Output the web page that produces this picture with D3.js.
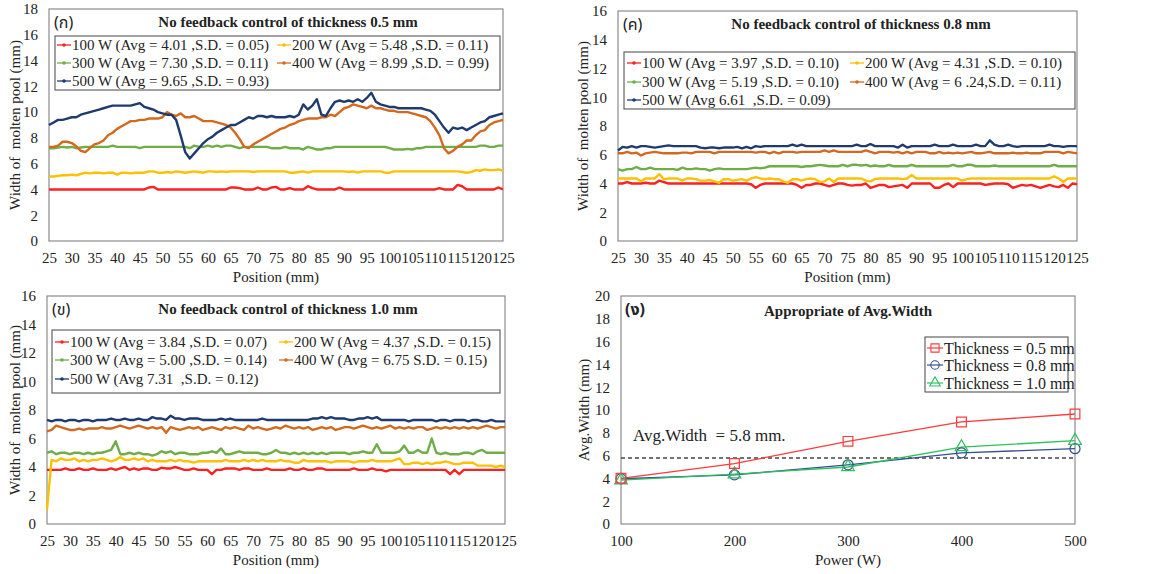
<!DOCTYPE html>
<html><head><meta charset="utf-8">
<script src="https://cdn.jsdelivr.net/npm/d3@7"></script>
<style>
html,body{margin:0;padding:0;background:#fff;}
text{font-family:"Liberation Serif","Times New Roman",serif;fill:#222;}
</style></head>
<body><svg id="c" width="1150" height="574"></svg>
<script>
// ---------- DATA ----------
const positions = [25,26,27,28,29,30,31,32,33,34,35,36,37,38,39,40,41,42,43,44,45,46,47,48,49,50,51,52,53,54,55,56,57,58,59,60,61,62,63,64,65,66,67,68,69,70,71,72,73,74,75,76,77,78,79,80,81,82,83,84,85,86,87,88,89,90,91,92,93,94,95,96,97,98,99,100,101,102,103,104,105,106,107,108,109,110,111,112,113,114,115,116,117,118,119,120,121,122,123,124,125];
const positionTicks = [25,30,35,40,45,50,55,60,65,70,75,80,85,90,95,100,105,110,115,120,125];

// thickness 0.5 mm
const t05_100 = [4,4,4,4,4,4,4,4,4,4, 4,4,4,4,4,4,4,4,4,4, 4,4,4.15,4.2,4,4,4,4,4,4, 4,4,4,4,4,4,4,4,4,4, 4.15,4.15,4.1,4,4,4,4.15,4,4,4.15, 4.2,4,4,4.1,4,4,4,4.25,4.1,4, 4,4,4,4,4.15,4,4,4,4,4, 4,4,4,4,4,4,4,4,4,4, 4,4,4,4,4,4,4.1,4,4,4, 4.35,4.25,4,4,4,4,4,4,4,4.15, 4];
const t05_200 = [5.0,5.0,5.05,5.1,5.1,5.15,5.1,5.2,5.3,5.25, 5.3,5.3,5.25,5.3,5.3,5.15,5.3,5.3,5.25,5.3, 5.3,5.3,5.4,5.4,5.3,5.3,5.35,5.3,5.4,5.35, 5.3,5.35,5.4,5.35,5.3,5.4,5.4,5.35,5.4,5.35, 5.4,5.4,5.4,5.4,5.4,5.35,5.4,5.4,5.4,5.4, 5.4,5.4,5.4,5.3,5.3,5.35,5.4,5.3,5.4,5.4, 5.4,5.4,5.4,5.4,5.4,5.4,5.35,5.4,5.3,5.4, 5.4,5.4,5.4,5.4,5.3,5.3,5.4,5.4,5.4,5.4, 5.4,5.4,5.4,5.4,5.4,5.4,5.4,5.4,5.4,5.4, 5.4,5.35,5.3,5.35,5.5,5.45,5.55,5.5,5.5,5.55, 5.45];
const t05_300 = [7.2,7.2,7.25,7.3,7.25,7.3,7.2,7.25,7.3,7.3, 7.3,7.3,7.3,7.3,7.4,7.3,7.3,7.3,7.3,7.3, 7.2,7.3,7.3,7.3,7.3,7.3,7.3,7.3,7.3,7.3, 7.3,7.2,7.4,7.3,7.3,7.4,7.3,7.4,7.3,7.4, 7.4,7.3,7.2,7.3,7.3,7.3,7.3,7.3,7.3,7.2, 7.2,7.2,7.3,7.2,7.2,7.2,7.1,7.3,7.2,7.1, 7.1,7.2,7.2,7.3,7.3,7.3,7.3,7.3,7.3,7.3, 7.3,7.3,7.3,7.3,7.3,7.2,7.1,7.1,7.1,7.15, 7.1,7.2,7.2,7.3,7.3,7.3,7.3,7.3,7.3,7.3, 7.3,7.3,7.3,7.3,7.3,7.4,7.4,7.3,7.3,7.4, 7.4];
const t05_400 = [7.3,7.3,7.4,7.7,7.7,7.6,7.35,7.0,6.9,7.2, 7.5,7.6,7.8,8.2,8.4,8.7,8.9,9.1,9.3,9.3, 9.4,9.4,9.5,9.5,9.5,9.6,10.0,9.8,9.7,9.9, 9.6,9.6,9.7,9.5,9.3,9.3,9.3,9.2,9.1,9.0, 8.8,8.4,7.9,7.3,7.2,7.5,7.7,7.9,8.1,8.3, 8.5,8.7,8.8,9.0,9.1,9.3,9.4,9.5,9.5,9.5, 9.6,9.6,9.8,9.7,10.0,10.3,10.4,10.6,10.5,10.4, 10.3,10.5,10.3,10.3,10.2,10.1,10.1,10.0,10.0,10.0, 9.9,9.8,9.7,9.6,9.3,8.8,8.2,7.2,6.8,7.0, 7.3,7.5,7.8,7.8,8.2,8.5,8.6,9.0,9.2,9.3, 9.4];
const t05_500 = [9.0,9.2,9.4,9.4,9.5,9.6,9.6,9.8,9.9,10.0, 10.1,10.2,10.3,10.4,10.5,10.5,10.5,10.5,10.5,10.6, 10.7,10.4,10.3,10.2,10.0,9.9,9.8,9.8,9.4,8.2, 6.9,6.4,6.8,7.2,7.6,7.9,8.1,8.4,8.6,8.8, 9.0,9.0,9.2,9.4,9.6,9.5,9.7,9.7,9.6,9.7, 9.6,9.6,9.6,9.7,9.6,9.8,10.6,10.2,10.5,11.0, 9.8,9.7,10.3,10.8,10.9,10.8,10.9,10.8,11.0,10.8, 11.1,11.5,10.8,10.6,10.5,10.4,10.4,10.3,10.3,10.3, 10.3,10.3,10.3,10.2,10.1,9.8,9.3,8.8,8.4,8.8, 8.7,8.8,8.6,8.8,9.0,9.2,9.3,9.6,9.7,9.8, 9.9];

// thickness 0.8 mm
const t08_100 = [4.0,4.0,4.1,4.0,4.0,4.0,4.05,4.0,4.0,4.2, 4.1,4.0,4.0,4.0,4.0,4.0,4.0,4.0,4.0,4.0, 4.0,4.0,4.0,4.0,4.0,4.0,4.0,4.0,4.0,3.95, 3.7,3.9,4.0,4.0,4.0,4.0,4.0,4.0,4.0,3.9, 3.7,3.9,3.9,4.0,4.0,3.9,3.8,3.9,4.0,4.0, 3.9,3.85,3.9,3.9,4.0,3.7,3.8,3.9,3.9,3.75, 3.8,3.85,3.9,3.7,4.0,4.0,4.0,4.0,4.0,3.7, 3.7,3.9,4.0,3.75,4.0,4.0,4.0,4.0,4.0,4.0, 3.9,3.95,4.0,4.0,4.0,3.95,3.7,3.8,3.9,3.85, 3.9,3.8,3.7,3.8,3.9,3.8,3.75,3.9,3.7,4.0, 3.95];
const t08_200 = [4.35,4.35,4.35,4.35,4.35,4.15,4.35,4.35,4.35,4.65, 4.3,4.35,4.35,4.35,4.2,4.35,4.35,4.3,4.2,4.2, 4.25,4.15,4.05,4.3,4.3,4.2,4.25,4.3,4.2,4.35, 4.45,4.35,4.3,4.35,4.3,4.3,4.15,4.05,4.3,4.3, 4.2,4.3,4.35,4.3,4.1,4.15,4.35,4.1,4.35,4.35, 4.35,4.35,4.35,4.35,4.2,4.15,4.3,4.35,4.35,4.35, 4.35,4.35,4.3,4.35,4.6,4.35,4.35,4.35,4.35,4.35, 4.35,4.35,4.35,4.35,4.35,4.2,4.3,4.35,4.35,4.35, 4.35,4.35,4.35,4.35,4.35,4.35,4.35,4.35,4.35,4.35, 4.35,4.35,4.35,4.35,4.35,4.5,4.35,4.1,4.35,4.35, 4.35];
const t08_300 = [5.0,4.9,5.0,5.0,5.15,5.0,5.0,5.1,5.0,5.0, 5.0,5.0,5.0,4.95,5.1,5.0,5.0,5.05,5.0,5.0, 4.9,5.0,5.05,5.0,5.0,5.0,5.0,5.0,5.0,5.05, 5.1,5.05,5.1,5.2,5.2,5.2,5.2,5.2,5.2,5.2, 5.15,5.2,5.2,5.25,5.3,5.25,5.2,5.2,5.2,5.3, 5.2,5.3,5.3,5.25,5.3,5.2,5.25,5.2,5.2,5.3, 5.2,5.2,5.2,5.2,5.3,5.2,5.2,5.2,5.2,5.2, 5.2,5.2,5.2,5.3,5.2,5.2,5.3,5.3,5.2,5.2, 5.2,5.2,5.25,5.2,5.2,5.2,5.2,5.2,5.2,5.2, 5.2,5.2,5.2,5.2,5.2,5.3,5.2,5.2,5.2,5.2, 5.2];
const t08_400 = [6.1,6.1,6.2,6.1,6.15,5.95,6.1,6.15,6.2,6.15, 6.1,6.1,6.1,6.1,6.15,6.15,6.1,6.2,6.2,6.2, 6.2,6.1,6.2,6.2,6.2,6.2,6.2,6.2,6.2,6.2, 6.15,6.2,6.2,6.1,6.2,6.1,6.2,6.2,6.2,6.15, 6.2,6.2,6.2,6.2,6.2,6.3,6.2,6.3,6.2,6.2, 6.2,6.2,6.2,6.2,6.3,6.2,6.1,6.2,6.2,6.2, 6.15,6.2,6.1,6.2,6.1,6.2,6.2,6.2,6.1,6.1, 6.2,6.1,6.15,6.1,6.15,6.1,6.15,6.2,6.1,6.1, 6.15,6.2,6.1,6.1,6.1,6.1,6.15,6.1,6.1,6.15, 6.1,6.1,6.1,6.2,6.2,6.2,6.2,6.1,6.2,6.15, 6.1];
const t08_500 = [6.3,6.55,6.5,6.6,6.5,6.6,6.6,6.55,6.5,6.55, 6.6,6.65,6.6,6.6,6.6,6.6,6.6,6.6,6.5,6.45, 6.5,6.5,6.45,6.5,6.5,6.5,6.55,6.45,6.55,6.45, 6.6,6.55,6.6,6.6,6.6,6.6,6.6,6.6,6.7,6.6, 6.7,6.6,6.6,6.6,6.6,6.6,6.6,6.6,6.6,6.6, 6.6,6.6,6.7,6.6,6.6,6.75,6.6,6.6,6.6,6.6, 6.6,6.5,6.7,6.5,6.6,6.6,6.6,6.6,6.6,6.7, 6.6,6.6,6.6,6.7,6.6,6.6,6.6,6.6,6.7,6.6, 6.6,7.0,6.7,6.6,6.6,6.7,6.6,6.55,6.6,6.6, 6.6,6.6,6.6,6.6,6.7,6.6,6.6,6.55,6.6,6.6, 6.6];

// thickness 1.0 mm
const t10_100 = [3.8,3.8,3.8,3.8,3.9,3.8,3.8,3.9,3.8,3.8, 3.9,3.8,3.8,3.8,3.9,3.8,3.9,4.0,3.8,3.9, 3.8,3.9,3.9,3.8,3.8,3.95,3.9,3.9,4.0,3.9, 3.8,3.8,3.9,3.8,3.8,3.8,3.5,3.8,3.8,3.9, 3.9,3.9,3.8,3.9,3.9,3.8,3.8,3.8,3.9,3.8, 3.8,3.8,3.8,3.9,3.8,3.8,3.9,3.8,3.8,3.9, 3.9,3.8,3.8,3.8,3.8,3.8,3.8,3.9,3.8,3.8, 3.8,3.9,3.8,3.8,3.7,3.8,3.8,3.8,3.8,3.8, 3.8,3.8,3.8,3.8,3.8,3.8,3.8,3.8,3.5,3.8, 3.5,3.8,3.8,3.8,3.8,3.8,3.8,3.8,3.8,3.8, 3.8];
const t10_200 = [1.0,4.5,4.4,4.6,4.5,4.5,4.6,4.4,4.5,4.4, 4.5,4.5,4.6,4.5,4.4,4.5,4.7,4.5,4.5,4.6, 4.5,4.6,4.4,4.5,4.4,4.4,4.4,4.5,4.4,4.5, 4.4,4.4,4.3,4.4,4.4,4.4,4.4,4.4,4.4,4.5, 4.4,4.4,4.4,4.5,4.4,4.5,4.4,4.5,4.4,4.4, 4.4,4.5,4.4,4.4,4.3,4.3,4.5,4.4,4.4,4.4, 4.4,4.4,4.3,4.4,4.4,4.4,4.4,4.3,4.4,4.4, 4.4,4.5,4.4,4.4,4.4,4.4,4.5,4.6,4.2,4.2, 4.3,4.3,4.2,4.3,4.2,4.3,4.3,4.4,4.3,4.2, 4.2,4.3,4.3,4.3,4.1,4.1,4.1,4.1,4.0,4.1, 4.0];
const t10_300 = [5.0,5.1,4.9,5.0,5.0,4.9,5.0,5.0,4.9,5.0, 4.9,5.0,5.0,5.1,5.2,5.8,4.9,4.9,5.0,4.9, 5.0,4.9,4.9,4.8,4.9,5.1,5.0,5.1,4.9,5.0, 5.0,4.9,4.9,4.9,5.0,5.0,5.1,5.0,5.3,4.9, 4.9,5.0,5.1,5.0,5.0,5.0,5.0,4.9,4.9,5.0, 5.2,5.0,5.0,4.9,5.0,4.9,5.0,4.9,5.0,4.9, 5.0,4.9,5.0,5.0,5.0,5.0,4.9,5.0,5.0,5.1, 5.0,5.0,5.6,5.0,5.0,5.0,5.0,5.1,5.5,5.0, 5.0,5.2,5.0,5.0,6.0,5.0,4.9,5.0,4.9,4.9, 4.9,5.0,5.0,4.9,5.1,5.2,5.0,5.0,5.0,5.0, 5.0];
const t10_400 = [6.5,6.6,6.9,6.8,6.7,6.6,6.6,6.7,6.6,6.7, 6.7,6.7,6.8,6.7,6.7,6.8,6.9,6.8,6.7,6.8, 6.9,6.8,6.7,6.8,6.7,6.8,6.4,6.8,6.7,6.6, 6.7,6.8,6.7,6.8,6.6,6.7,6.8,6.7,6.6,6.8, 6.7,6.8,6.7,6.6,6.9,6.7,6.8,6.7,6.6,6.7, 6.8,6.7,6.9,6.8,6.7,6.8,6.7,6.8,6.6,6.7, 6.8,6.7,6.8,6.6,6.7,6.8,6.8,6.7,6.8,6.9, 6.8,6.7,6.8,6.7,6.8,6.9,6.7,6.8,6.7,6.8, 6.7,6.8,6.8,6.6,6.7,6.8,6.7,6.8,6.7,6.8, 6.7,6.8,6.7,6.8,6.7,6.8,6.9,6.8,6.7,6.8, 6.8];
const t10_500 = [7.3,7.2,7.3,7.3,7.2,7.3,7.3,7.2,7.3,7.3, 7.2,7.3,7.3,7.3,7.4,7.3,7.3,7.4,7.3,7.3, 7.4,7.3,7.3,7.5,7.4,7.4,7.3,7.6,7.4,7.4, 7.3,7.4,7.4,7.4,7.3,7.3,7.3,7.3,7.4,7.3, 7.4,7.3,7.3,7.3,7.3,7.3,7.3,7.4,7.3,7.3, 7.3,7.3,7.3,7.3,7.3,7.3,7.3,7.3,7.4,7.4, 7.5,7.4,7.5,7.4,7.4,7.4,7.3,7.3,7.4,7.4, 7.5,7.4,7.5,7.3,7.3,7.3,7.3,7.3,7.3,7.2, 7.3,7.3,7.3,7.3,7.3,7.2,7.3,7.3,7.2,7.3, 7.3,7.3,7.2,7.3,7.3,7.2,7.2,7.3,7.2,7.2, 7.2];

// legends
const legend05 = ["100 W (Avg = 4.01 ,S.D. = 0.05)","200 W (Avg = 5.48 ,S.D. = 0.11)","300 W (Avg = 7.30 ,S.D. = 0.11)","400 W (Avg = 8.99 ,S.D. = 0.99)","500 W (Avg = 9.65 ,S.D. = 0.93)"];
const legend08 = ["100 W (Avg = 3.97 ,S.D. = 0.10)","200 W (Avg = 4.31 ,S.D. = 0.10)","300 W (Avg = 5.19 ,S.D. = 0.10)","400 W (Avg = 6 .24,S.D. = 0.11)","500 W (Avg 6.61  ,S.D. = 0.09)"];
const legend10 = ["100 W (Avg = 3.84 ,S.D. = 0.07)","200 W (Avg = 4.37 ,S.D. = 0.15)","300 W (Avg = 5.00 ,S.D. = 0.14)","400 W (Avg = 6.75 S.D. = 0.15)","500 W (Avg 7.31  ,S.D. = 0.12)"];

// summary panel
const powers = [100,200,300,400,500];
const avg05 = [4.01,5.3,7.25,8.95,9.65];
const avg08 = [3.97,4.31,5.19,6.24,6.61];
const avg10 = [3.84,4.37,5.00,6.75,7.31];
const summaryLegend = ["Thickness = 0.5 mm","Thickness = 0.8 mm","Thickness = 1.0 mm"];
const targetWidth = 5.8;

// ---------- DRAW ----------
const powerColors = ["#ff2020","#ffc000","#70ad47","#d2691e","#1f3a6e"];
const svg = d3.select("#c");
svg.append("rect").attr("width",1150).attr("height",574).attr("fill","#fff");

function frame(g, x0, x1, y0, y1){
  g.append("rect").attr("x",x0).attr("y",y0).attr("width",x1-x0).attr("height",y1-y0)
    .attr("fill","none").attr("stroke","#8c8c8c").attr("stroke-width",1.2);
}

function yAxis(g, y, x0, ticks){
  const ax = d3.axisLeft(y).tickValues(ticks).tickSize(0).tickPadding(11).tickFormat(d3.format("d"));
  const a = g.append("g").attr("transform",`translate(${x0},0)`).call(ax);
  a.select(".domain").remove();
  a.selectAll("text").style("font-family","Liberation Serif").style("font-size","15px").attr("fill","#222");
}
function xAxis(g, x, y1, ticks){
  const ax = d3.axisBottom(x).tickValues(ticks).tickSize(0).tickPadding(11).tickFormat(d3.format("d"));
  const a = g.append("g").attr("transform",`translate(0,${y1})`).call(ax);
  a.select(".domain").remove();
  a.selectAll("text").style("font-family","Liberation Serif").style("font-size","15px").attr("fill","#222");
}

function linePanel(cfg){
  const g = svg.append("g");
  const x = d3.scaleLinear().domain([25,125]).range([cfg.x0,cfg.x1]);
  const y = d3.scaleLinear().domain([0,cfg.ymax]).range([cfg.y1,cfg.y0]);
  frame(g,cfg.x0,cfg.x1,cfg.y0,cfg.y1);
  yAxis(g,y,cfg.x0,d3.range(0,cfg.ymax+1,2));
  xAxis(g,x,cfg.y1,positionTicks);
  const line = d3.line().x((d,i)=>x(positions[i])).y(d=>y(d));
  cfg.series.forEach((s,k)=>{
    g.append("path").datum(s).attr("d",line).attr("fill","none")
      .attr("stroke",powerColors[k]).attr("stroke-width",2.4).attr("stroke-linejoin","round");
  });
  // titles
  g.append("text").attr("x",(cfg.x0+cfg.x1)/2).attr("y",cfg.y1+41).attr("text-anchor","middle")
    .style("font-size","15px").text("Position (mm)");
  g.append("text").attr("transform",`translate(${cfg.ytx},${(cfg.y0+cfg.y1)/2}) rotate(-90)`)
    .attr("text-anchor","middle").attr("dy","0.35em").style("font-size","15px").style("white-space","pre")
    .text("Width of  molten pool (mm)");
  g.append("text").attr("x",cfg.titleX).attr("y",cfg.y0+18).attr("text-anchor","middle")
    .style("font-size","15px").style("font-weight","bold").text(cfg.title);
  g.append("text").attr("x",cfg.x0+5).attr("y",cfg.y0+19)
    .style("font-size","16px").style("font-family","'Noto Sans Thai','Noto Serif Thai','Loma','Garuda','Liberation Serif',serif")
    .text(cfg.tag);
  // legend
  const L = cfg.legend;
  g.append("rect").attr("x",L.x0).attr("y",L.y0).attr("width",L.x1-L.x0).attr("height",L.y1-L.y0)
    .attr("fill","#fff").attr("stroke","#555").attr("stroke-width",1.1);
  cfg.labels.forEach((t,k)=>{
    const col = k%2, row = Math.floor(k/2);
    const mx = col===0 ? L.c1 : L.c2;
    const my = L.rows[row];
    g.append("line").attr("x1",mx).attr("x2",mx+14).attr("y1",my).attr("y2",my)
      .attr("stroke",powerColors[k]).attr("stroke-width",1.3);
    g.append("circle").attr("cx",mx+7).attr("cy",my).attr("r",1.8).attr("fill",powerColors[k]);
    g.append("text").attr("x",mx+15).attr("y",my).attr("dy","0.35em").style("font-size","15px")
      .style("white-space","pre").text(t);
  });
}

linePanel({x0:49,x1:503,y0:9,y1:241,ymax:18,ytx:15,titleX:288,tag:"(ก)",
  title:"No feedback control of thickness 0.5 mm",
  series:[t05_100,t05_200,t05_300,t05_400,t05_500],labels:legend05,
  legend:{x0:55,x1:500,y0:36,y1:90,c1:57,c2:277,rows:[45,63,81]}});
linePanel({x0:618,x1:1077,y0:11,y1:241,ymax:16,ytx:583,titleX:861,tag:"(ค)",
  title:"No feedback control of thickness 0.8 mm",
  series:[t08_100,t08_200,t08_300,t08_400,t08_500],labels:legend08,
  legend:{x0:624,x1:1075,y0:52,y1:109,c1:627,c2:850,rows:[63,82,100]}});
linePanel({x0:47,x1:505,y0:296,y1:524,ymax:16,ytx:15,titleX:288,tag:"(ข)",
  title:"No feedback control of thickness 1.0 mm",
  series:[t10_100,t10_200,t10_300,t10_400,t10_500],labels:legend10,
  legend:{x0:52,x1:500,y0:330,y1:393,c1:55,c2:279,rows:[342,360,379]}});

// summary panel
(function(){
  const x0=621,x1=1075,y0=296,y1=524;
  const g = svg.append("g");
  const x = d3.scaleLinear().domain([100,500]).range([x0,x1]);
  const y = d3.scaleLinear().domain([0,20]).range([y1,y0]);
  frame(g,x0,x1,y0,y1);
  yAxis(g,y,x0,d3.range(0,21,2));
  const xa = d3.axisBottom(x).tickValues(powers).tickSize(0).tickPadding(11).tickFormat(d3.format("d"));
  const a = g.append("g").attr("transform",`translate(0,${y1})`).call(xa);
  a.select(".domain").remove();
  a.selectAll("text").style("font-family","Liberation Serif").style("font-size","15px").attr("fill","#222");

  g.append("line").attr("x1",x0).attr("x2",x1).attr("y1",y(targetWidth)).attr("y2",y(targetWidth))
    .attr("stroke","#444").attr("stroke-width",1.5).attr("stroke-dasharray","4,3");
  g.append("text").attr("x",x0+12).attr("y",y(targetWidth)-17).style("font-size","17px")
    .style("white-space","pre").text("Avg.Width  = 5.8 mm.");

  const cols = ["#ff3b3b","#34508f","#2fbf5f"];
  const sets = [avg05,avg08,avg10];
  const syms = [d3.symbolSquare,d3.symbolCircle,d3.symbolTriangle];
  const sizes = [95,80,70];
  const line = d3.line().x((d,i)=>x(powers[i])).y(d=>y(d));
  [1,2,0].forEach(k=>{
    g.append("path").datum(sets[k]).attr("d",line).attr("fill","none").attr("stroke",cols[k]).attr("stroke-width",1.3);
  });
  [1,2,0].forEach(k=>{
    sets[k].forEach((v,i)=>{
      g.append("path").attr("d",d3.symbol(syms[k],sizes[k])()).attr("transform",`translate(${x(powers[i])},${y(v)})`)
        .attr("fill","none").attr("stroke",cols[k]).attr("stroke-width",1.2);
    });
  });
  g.append("text").attr("x",(x0+x1)/2).attr("y",316).attr("text-anchor","middle")
    .style("font-size","15px").style("font-weight","bold").text("Appropriate of Avg.Width");
  g.append("text").attr("x",x0+4).attr("y",315)
    .style("font-size","16px").style("font-weight","bold").style("font-family","'Noto Sans Thai','Noto Serif Thai','Loma','Garuda','Liberation Serif',serif")
    .text("(ง)");
  g.append("text").attr("x",(x0+x1)/2).attr("y",y1+41).attr("text-anchor","middle").style("font-size","15px").text("Power (W)");
  g.append("text").attr("transform",`translate(584,${(y0+y1)/2}) rotate(-90)`).attr("text-anchor","middle")
    .attr("dy","0.35em").style("font-size","15px").text("Avg.Width (mm)");
  // legend
  g.append("rect").attr("x",925).attr("y",337).attr("width",143).attr("height",55)
    .attr("fill","#fff").attr("stroke","#555").attr("stroke-width",1.1);
  const rows=[348,365,383];
  summaryLegend.forEach((t,k)=>{
    g.append("line").attr("x1",927).attr("x2",943).attr("y1",rows[k]).attr("y2",rows[k]).attr("stroke",cols[k]).attr("stroke-width",1.2);
    g.append("path").attr("d",d3.symbol(syms[k],sizes[k]*0.7)()).attr("transform",`translate(935,${rows[k]})`)
      .attr("fill","none").attr("stroke",cols[k]).attr("stroke-width",1.1);
    g.append("text").attr("x",944).attr("y",rows[k]).attr("dy","0.35em").style("font-size","16px").text(t);
  });
})();
</script></body></html>
